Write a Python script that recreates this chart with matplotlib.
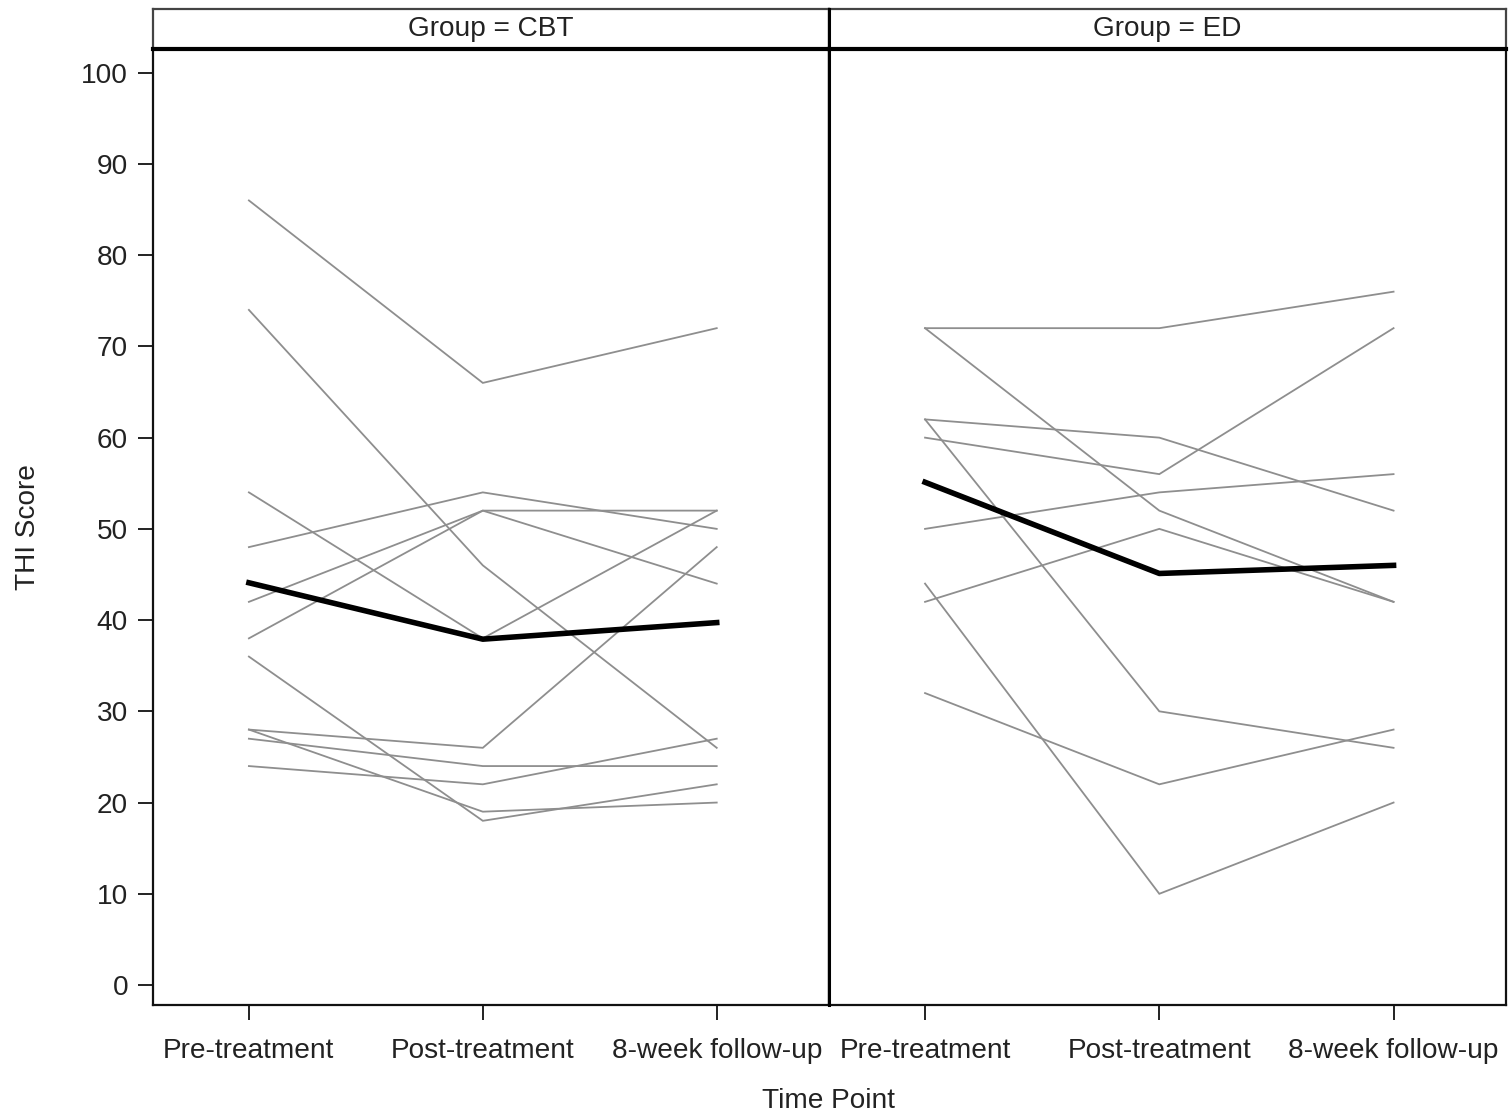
import numpy as np
import matplotlib
matplotlib.use("Agg")
import matplotlib.pyplot as plt

plt.rcParams['font.family'] = ['Liberation Sans', 'DejaVu Sans']

time_points = ["Pre-treatment", "Post-treatment", "8-week follow-up"]

# one row per subject: pre, post, 8-week
cbt = [
    [86, 66, 72],
    [74, 46, 26],
    [54, 38, 52],
    [48, 54, 50],
    [42, 52, 52],
    [38, 52, 44],
    [36, 18, 22],
    [28, 26, 48],
    [28, 19, 20],
    [27, 24, 24],
    [24, 22, 27],
]
ed = [
    [72, 72, 76],
    [72, 52, 42],
    [62, 60, 52],
    [62, 30, 26],
    [60, 56, 72],
    [50, 54, 56],
    [42, 50, 42],
    [44, 10, 20],
    [32, 22, 28],
]
groups = ["CBT", "ED"]
yticks = list(range(0, 101, 10))

W, H = 1512, 1117
fig = plt.figure(figsize=(W / 100, H / 100), dpi=100)

txt_col = '#222222'
fs = 20.2

panels = [(153, 829, cbt), (829, 1506, ed)]
ax_top, ax_bot = 49, 1005
for i, (x0, x1, data) in enumerate(panels):
    ax = fig.add_axes([x0 / W, 1 - ax_bot / H, (x1 - x0) / W, (ax_bot - ax_top) / H])
    xs = np.arange(len(time_points))
    arr = np.array(data, dtype=float)
    for row in arr:
        ax.plot(xs, row, color='#8e8e8e', lw=1.3, solid_joinstyle='miter')
    ax.plot(xs, arr.mean(axis=0), color='black', lw=4)
    ax.set_xlim(-0.41, 2.48)
    ax.set_ylim(-2.19, 102.6)
    ax.set_xticks(xs)
    ax.set_xticklabels(time_points, fontsize=fs, color=txt_col)
    ax.tick_params(axis='x', length=11, width=1.4, pad=13, color='#222222')
    if i == 0:
        ax.set_yticks(yticks)
        ax.set_yticklabels([str(v) for v in yticks], fontsize=fs, color=txt_col)
        ax.tick_params(axis='y', length=11, width=1.4, pad=7, color='#222222')
    else:
        ax.set_yticks([])
    for sp in ax.spines.values():
        sp.set_linewidth(1.6)
        sp.set_color('#111111')

    # strip header
    st = fig.add_axes([x0 / W, 1 - ax_top / H, (x1 - x0) / W, 40 / H])
    st.set_xticks([])
    st.set_yticks([])
    for sp in st.spines.values():
        sp.set_linewidth(1.6)
        sp.set_color('#444444')
    st.spines['bottom'].set_linewidth(3)
    st.spines['bottom'].set_color('black')
    st.text(0.5, 0.5, "Group = " + groups[i], ha='center', va='center',
            fontsize=fs, color=txt_col, transform=st.transAxes)

# divider between panels
fig.add_artist(plt.Line2D([829 / W, 829 / W], [1 - ax_bot / H, 1 - 9 / H],
                          color='black', lw=2.2))

fig.text(829 / W, 1 - 1101 / H, "Time Point", ha='center', va='center',
         fontsize=fs, color=txt_col)
fig.text(28 / W, 1 - 527 / H, "THI Score", ha='center', va='center',
         rotation=90, fontsize=fs, color=txt_col)

fig.savefig("out.png", dpi=100, facecolor='white')
